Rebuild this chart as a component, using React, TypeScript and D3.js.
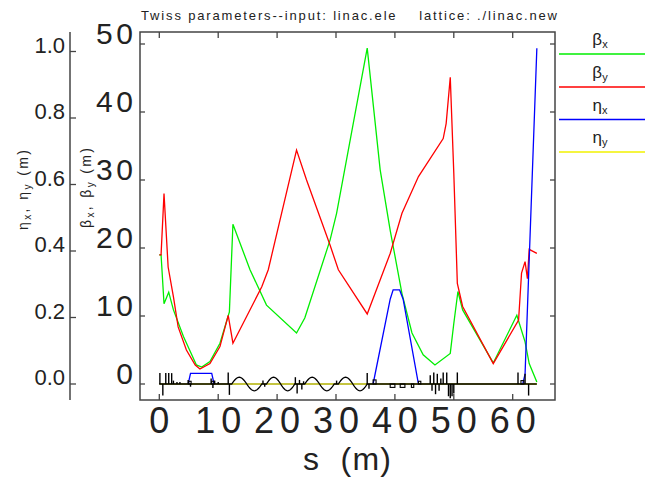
import React from "react";
import * as d3 from "d3";

// beta functions (m) vs s (m)
const sBetaX = [0, 0.3, 0.8, 1.6, 2.4, 4.1, 6.3, 7.2, 8.6, 10.3, 11.9, 12.5, 15.4, 18.2, 23.3, 24.7, 29.0, 30.1, 35.3, 37.5, 39.2, 41.2, 42.9, 44.8, 46.8, 49.4, 50.0, 50.7, 51.5, 56.7, 60.7, 62.1, 62.8, 64.1];
const betaX = [19, 19, 11.8, 13.5, 10.9, 7.0, 2.8, 2.5, 3.3, 6.0, 10.6, 23.5, 16.8, 11.6, 7.5, 9.7, 21.2, 25.1, 49.4, 31.5, 22.6, 13.3, 7.5, 4.3, 2.8, 4.5, 8.9, 13.6, 10.9, 3.1, 10.1, 6.2, 3.0, 0.3];

const sBetaY = [0, 0.3, 0.8, 1.5, 2.4, 3.2, 4.6, 6.1, 6.9, 8.6, 10.3, 11.7, 12.5, 17.4, 18.5, 23.3, 25.0, 29.0, 30.4, 35.3, 39.2, 41.2, 44.0, 48.2, 48.7, 49.4, 50.0, 50.6, 51.5, 56.7, 61.0, 61.5, 62.1, 62.5, 62.8, 64.1];
const betaY = [19, 19, 28.0, 17.2, 12.8, 8.4, 5.0, 2.8, 2.2, 3.0, 5.5, 10.1, 6.0, 14.3, 16.8, 34.4, 30.0, 20.4, 16.8, 10.3, 19.2, 25.1, 30.5, 36.1, 38.3, 45.1, 31.0, 14.8, 11.4, 3.0, 9.4, 16.3, 18.0, 15.5, 19.8, 19.2];

// dispersion (m)
const sEtaX = [0, 4.9, 5.3, 8.9, 9.3, 36.3, 39.2, 39.7, 40.8, 41.4, 44.0, 61.7, 62.1, 64.1];
const etaX = [0, 0, 0.032, 0.032, 0, 0, 0.255, 0.283, 0.283, 0.255, 0, 0, 0.03, 1.01];
const sEtaY = [0, 64.1];
const etaY = [0, 0];

// lattice profile
const quadS = [0.1, 0.6, 1.1, 1.6, 2.1, 2.4, 3.0, 3.5, 4.9, 5.3, 8.8, 9.1, 9.4, 10.0, 11.7, 11.9, 17.6, 17.9, 23.1, 23.4, 23.8, 24.2, 24.5, 30.1, 35.3, 35.6, 46.0, 46.3, 46.6, 46.9, 47.2, 47.5, 47.8, 48.2, 48.8, 49.1, 49.4, 49.7, 50.0, 50.6, 60.9, 62.1, 62.7];
const quadH = [1.6, -1.7, 1.6, 1.6, 1.6, 0.5, 0.3, 0.3, 0.6, -0.4, 0.8, -0.6, 0.5, 0.3, 1.7, -1.6, 0.5, -0.4, 1.0, -1.4, 0.6, -0.8, 0.4, 0.5, 1.6, -0.7, 1.3, -1.0, 1.7, -1.5, 1.5, -1.0, 0.8, 1.7, 1.7, -1.8, -2.1, -1.8, -1.4, 1.7, 1.7, 1.5, -1.7];
const bendS = [5.0, 8.9, 36.3, 39.2, 40.9, 42.8, 44.0, 61.4];
const bendL = [0.4, 0.4, 0.5, 0.8, 0.8, 0.4, 0.4, 0.5];
const bendH = [0.4, 0.4, 0.6, -0.5, -0.5, -0.5, 0.4, 0.5];
const rfStart = [12.3, 18.2, 24.7, 30.4];
const rfEnd = [17.4, 23.0, 29.7, 35.3];
const sEnd = 64.1;

const sTicks = [0, 10, 20, 30, 40, 50, 60];
const betaTicks = [0, 10, 20, 30, 40, 50];
const etaTicks = [0, 0.2, 0.4, 0.6, 0.8, 1.0];

const legendItems = [
  { sym: "β", sub: "x", color: "#00ee00" },
  { sym: "β", sub: "y", color: "#ff0000" },
  { sym: "η", sub: "x", color: "#0000ff" },
  { sym: "η", sub: "y", color: "#f2f200" },
];

const FONT = "'Liberation Sans', Arial, sans-serif";
const W = 651;
const H = 479;
const frame = { left: 140, top: 32, right: 555, bottom: 400 };

export default function App() {
  const x = d3.scaleLinear().domain([0, 60]).range([159.3, 512.7]);
  const yB = d3.scaleLinear().domain([0, 50]).range([384, 44]);
  const yE = d3.scaleLinear().domain([0, 1]).range([384, 51.5]);

  const lineB = d3.line<[number, number]>().x((d) => x(d[0])).y((d) => yB(d[1]));
  const lineE = d3.line<[number, number]>().x((d) => x(d[0])).y((d) => yE(d[1]));
  const zip = (a: number[], b: number[]) => a.map((v, i) => [v, b[i]] as [number, number]);

  // black lattice baseline with rf sine sections
  const latPts: [number, number][] = [[0, 0]];
  rfStart.forEach((s0, i) => {
    const s1 = rfEnd[i];
    latPts.push([s0, 0]);
    d3.range(0, 41).forEach((k) => {
      const t = k / 40;
      latPts.push([s0 + (s1 - s0) * t, Math.sin(t * 2 * Math.PI)]);
    });
  });
  latPts.push([sEnd, 0]);

  const legendY = [54, 87, 119.5, 152];
  const pre = { whiteSpace: "pre" as const };

  return (
    <svg width={W} height={H} style={{ position: "absolute", left: 0, top: 0, background: "#fff" }} fontFamily={FONT}>
      <rect width={W} height={H} fill="#fff" />
      {/* title */}
      <text x={141} y={20} fontSize={13} textLength={416} lengthAdjust="spacing" fill="#222" style={pre}>
        {"Twiss parameters--input: linac.ele    lattice: ./linac.new"}
      </text>

      {/* curves */}
      <path d={lineB(zip(sBetaX, betaX)) || ""} fill="none" stroke="#00ee00" strokeWidth={1.3} />
      <path d={lineB(zip(sBetaY, betaY)) || ""} fill="none" stroke="#ff0000" strokeWidth={1.3} />
      <path d={lineE(zip(sEtaX, etaX)) || ""} fill="none" stroke="#0000ff" strokeWidth={1.3} />
      <path d={lineE(zip(sEtaY, etaY)) || ""} fill="none" stroke="#f2f200" strokeWidth={1.6} />

      {/* lattice */}
      <path d={lineB(latPts) || ""} fill="none" stroke="#000" strokeWidth={1.3} />
      {quadS.map((s, i) => (
        <line key={"q" + i} x1={x(s)} x2={x(s)} y1={yB(0)} y2={yB(quadH[i])} stroke="#000" strokeWidth={1.4} />
      ))}
      {bendS.map((s, i) => (
        <rect
          key={"b" + i}
          x={x(s)}
          width={x(s + bendL[i]) - x(s)}
          y={Math.min(yB(0), yB(bendH[i]))}
          height={Math.abs(yB(bendH[i]) - yB(0))}
          fill="none"
          stroke="#000"
          strokeWidth={1.1}
        />
      ))}

      {/* frame */}
      <rect
        x={frame.left}
        y={frame.top}
        width={frame.right - frame.left}
        height={frame.bottom - frame.top}
        fill="none"
        stroke="#444"
        strokeWidth={1.5}
      />
      {sTicks.map((t) => (
        <g key={"st" + t}>
          <line x1={x(t)} x2={x(t)} y1={frame.bottom} y2={frame.bottom - 6} stroke="#444" strokeWidth={1.3} />
          <line x1={x(t)} x2={x(t)} y1={frame.top} y2={frame.top + 6} stroke="#444" strokeWidth={1.3} />
          <text
            x={x(t)}
            y={433}
            fontSize={36}
            textAnchor="middle"
            fill="#222"
            {...(String(t).length > 1 ? { textLength: 46, lengthAdjust: "spacing" } : {})}
          >
            {t}
          </text>
        </g>
      ))}
      {betaTicks.map((t) => (
        <g key={"bt" + t}>
          <line x1={frame.left} x2={frame.left + 5} y1={yB(t)} y2={yB(t)} stroke="#444" strokeWidth={1.3} />
          <line x1={frame.right} x2={frame.right - 5} y1={yB(t)} y2={yB(t)} stroke="#444" strokeWidth={1.3} />
          <text
            x={133}
            y={yB(t)}
            fontSize={30}
            textAnchor="end"
            fill="#222"
            {...(String(t).length > 1 ? { textLength: 37, lengthAdjust: "spacing" } : {})}
          >
            {t}
          </text>
        </g>
      ))}

      {/* eta axis */}
      <line x1={70} x2={70} y1={frame.top} y2={frame.bottom} stroke="#444" strokeWidth={1.5} />
      {etaTicks.map((t) => (
        <g key={"et" + t}>
          <line x1={70} x2={76} y1={yE(t)} y2={yE(t)} stroke="#444" strokeWidth={1.3} />
          <text x={65} y={yE(t) + 1} fontSize={22} textAnchor="end" fill="#222">
            {t.toFixed(1)}
          </text>
        </g>
      ))}

      {/* axis titles */}
      <text x={347} y={470} fontSize={32} textAnchor="middle" fill="#222" textLength={88} lengthAdjust="spacing" style={pre}>
        {"s  (m)"}
      </text>
      <text transform="translate(28,190) rotate(-90)" fontSize={14} textAnchor="middle" fill="#222" textLength={80} lengthAdjust="spacing">
        η<tspan fontSize={10} dy={3}>x</tspan>
        <tspan dy={-3}>, η</tspan>
        <tspan fontSize={10} dy={3}>y</tspan>
        <tspan dy={-3}> (m)</tspan>
      </text>
      <text transform="translate(91,188) rotate(-90)" fontSize={14} textAnchor="middle" fill="#222" textLength={80} lengthAdjust="spacing">
        β<tspan fontSize={10} dy={3}>x</tspan>
        <tspan dy={-3}>, β</tspan>
        <tspan fontSize={10} dy={3}>y</tspan>
        <tspan dy={-3}> (m)</tspan>
      </text>

      {/* legend */}
      {legendItems.map((d, i) => (
        <g key={"lg" + i}>
          <line x1={559} x2={645} y1={legendY[i]} y2={legendY[i]} stroke={d.color} strokeWidth={1.5} />
          <text x={600} y={legendY[i] - 9} fontSize={17} textAnchor="middle" fill="#222">
            {d.sym}
            <tspan fontSize={11} dy={3}>
              {d.sub}
            </tspan>
          </text>
        </g>
      ))}
    </svg>
  );
}
